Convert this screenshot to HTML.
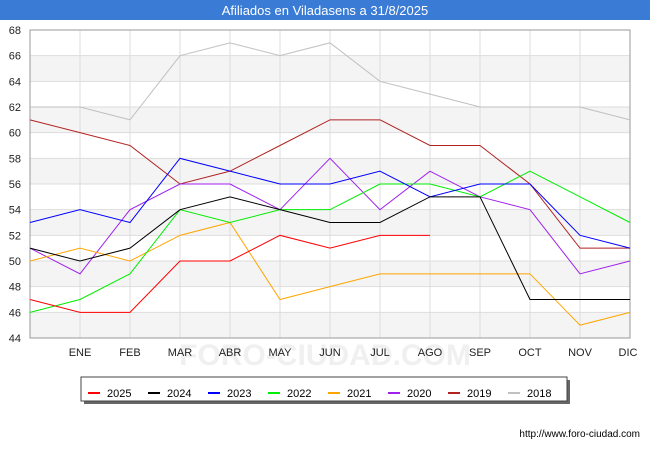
<!DOCTYPE html>
<html><head><meta charset="utf-8"><style>
body{margin:0;width:650px;height:450px;background:#fff;font-family:"Liberation Sans",sans-serif;overflow:hidden}
</style></head><body>
<svg width="650" height="450" xmlns="http://www.w3.org/2000/svg" font-family="Liberation Sans, sans-serif">
<rect x="0" y="0" width="650" height="20" fill="#3a7bd5"/>
<text x="325" y="15" text-anchor="middle" fill="#fff" font-size="13">Afiliados en Viladasens a 31/8/2025</text>
<g id="bands"></g>
<g id="grid"></g>
<text x="325" y="365" text-anchor="middle" font-size="30" fill="#f0f0f0" font-weight="bold">FORO-CIUDAD.COM</text>
<rect x="30" y="30" width="600" height="308" fill="none" stroke="#999"/>
<g id="lines"></g>
<g id="labels" font-size="11" fill="#222"></g>
<rect x="84" y="380" width="486" height="24" fill="#666"/>
<rect x="81" y="377" width="486" height="24" fill="#fff" stroke="#444"/>
<g id="legend" font-size="11" fill="#000"></g>
<text x="640" y="437" text-anchor="end" font-size="10" fill="#000">http://www.foro-ciudad.com</text>
</svg>
<script>
const NS="http://www.w3.org/2000/svg";
function el(p,t,a,txt){const e=document.createElementNS(NS,t);for(const k in a)e.setAttribute(k,a[k]);if(txt)e.textContent=txt;document.getElementById(p).appendChild(e);}
const Y=v=>338-(v-44)*308/24, X=i=>30+50*i;
for(let v=44;v<68;v+=4)el("bands","rect",{x:30,y:Y(v+2),width:600,height:Y(v)-Y(v+2),fill:"#f4f4f4"});
for(let v=44;v<=68;v+=2){el("grid","line",{x1:30,x2:630,y1:Y(v),y2:Y(v),stroke:"#ddd"});el("labels","text",{x:21,y:Y(v)+4,"text-anchor":"end"},String(v));}
const m=["ENE","FEB","MAR","ABR","MAY","JUN","JUL","AGO","SEP","OCT","NOV","DIC"];
for(let i=1;i<=12;i++){el("grid","line",{x1:X(i),x2:X(i),y1:30,y2:338,stroke:"#ddd"});el("labels","text",{x:X(i)-(i==12?2:0),y:356,"text-anchor":"middle"},m[i-1]);}
const S=[
["2018","#c0c0c0",[62,62,61,66,67,66,67,64,63,62,62,62,61]],
["2019","#b22222",[61,60,59,56,57,59,61,61,59,59,56,51,51]],
["2020","#a020f0",[51,49,54,56,56,54,58,54,57,55,54,49,50]],
["2021","#ffa500",[50,51,50,52,53,47,48,49,49,49,49,45,46]],
["2022","#00ee00",[46,47,49,54,53,54,54,56,56,55,57,55,53]],
["2023","#0000ff",[53,54,53,58,57,56,56,57,55,56,56,52,51]],
["2024","#000000",[51,50,51,54,55,54,53,53,55,55,47,47,47]],
["2025","#ff0000",[47,46,46,50,50,52,51,52,52]]];
S.forEach(s=>el("lines","polyline",{points:s[2].map((v,i)=>X(i)+","+Y(v)).join(" "),fill:"none",stroke:s[1],"stroke-width":1}));
const L=[...S].reverse();
L.forEach((s,i)=>{const x=88+i*60;el("legend","line",{x1:x,x2:x+12,y1:393,y2:393,stroke:s[1],"stroke-width":2});el("legend","text",{x:x+19,y:397},s[0]);});
</script>
</body></html>
